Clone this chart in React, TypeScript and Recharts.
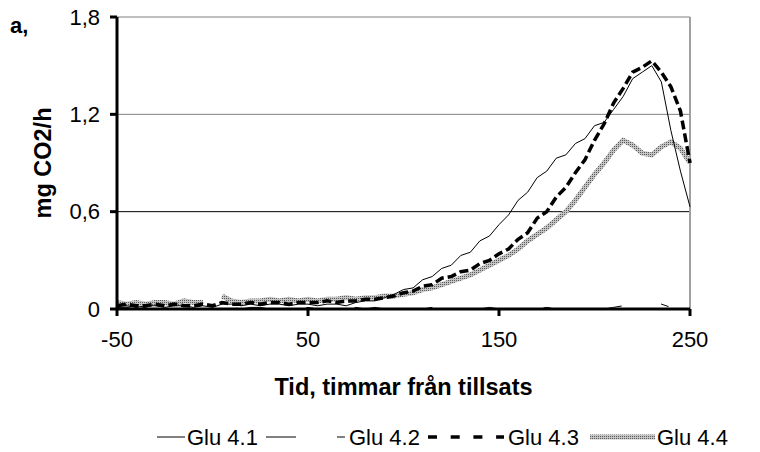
import React from "react";
import {
  LineChart,
  Line,
  XAxis,
  YAxis,
  ReferenceLine,
} from "recharts";

// hours relative to the addition (step 5 h)
const hours = [
  -50, -45, -40, -35, -30, -25, -20, -15, -10, -5,
  0, 5, 10, 15, 20, 25, 30, 35, 40, 45,
  50, 55, 60, 65, 70, 75, 80, 85, 90, 95,
  100, 105, 110, 115, 120, 125, 130, 135, 140, 145,
  150, 155, 160, 165, 170, 175, 180, 185, 190, 195,
  200, 205, 210, 215, 220, 225, 230, 235, 240, 245,
  250,
];

const glu41 = [
  0.02, 0.02, 0.01, 0.02, 0.02, 0.01, 0.02, 0.02, 0.01, 0.02,
  0.01, 0.03, 0.03, 0.02, 0.03, 0.02, 0.03, 0.03, 0.02, 0.03,
  0.03, 0.02, 0.03, 0.03, 0.02, 0.04, 0.05, 0.05, 0.07, 0.09,
  0.12, 0.13, 0.18, 0.2, 0.25, 0.27, 0.33, 0.35, 0.42, 0.45,
  0.52, 0.58, 0.67, 0.72, 0.81, 0.85, 0.93, 0.95, 1.02, 1.05,
  1.13, 1.15, 1.23, 1.31, 1.42, 1.46, 1.5, 1.4, 1.1, 0.85,
  0.63,
];

const glu42 = [
  0.01, 0.01, 0.0, 0.01, 0.01, 0.0, 0.01, 0.01, 0.0, 0.01,
  0.0, 0.01, 0.01, 0.0, 0.01, 0.01, 0.0, 0.01, 0.01, 0.0,
  0.01, 0.0, 0.01, 0.01, 0.0, 0.01, 0.0, 0.01, 0.0, 0.01,
  0.0, 0.01, 0.0, 0.01, 0.0, 0.0, 0.01, 0.0, 0.0, 0.01,
  0.0, 0.0, 0.01, 0.0, 0.0, 0.01, 0.0, 0.0, 0.0, 0.01,
  0.0, 0.0, 0.01, 0.02, 0.0, 0.02, 0.01, 0.03, 0.01, 0.04,
  0.01,
];

const glu43 = [
  0.02, 0.03, 0.02, 0.02, 0.03, 0.02, 0.03, 0.02, 0.02, 0.03,
  0.02, 0.04, 0.03, 0.03, 0.04, 0.03, 0.04, 0.04, 0.03, 0.04,
  0.04, 0.04, 0.05, 0.04, 0.05, 0.05, 0.06, 0.06, 0.07, 0.08,
  0.1, 0.11, 0.14, 0.15, 0.19, 0.2, 0.23, 0.24, 0.28, 0.3,
  0.34, 0.37, 0.43, 0.47, 0.56, 0.6, 0.69, 0.75, 0.84, 0.92,
  1.04, 1.14, 1.27, 1.36, 1.46, 1.49, 1.53, 1.46, 1.37, 1.22,
  0.9,
];

const glu44 = [
  0.04, 0.03, 0.04, 0.03, 0.04, 0.04, 0.03, 0.05, 0.04, 0.04,
  null, 0.08, 0.05, 0.04, 0.05, 0.05, 0.06, 0.05, 0.06, 0.05,
  0.06, 0.05, 0.06, 0.06, 0.07, 0.06, 0.07, 0.07, 0.08, 0.08,
  0.09, 0.1, 0.12, 0.13, 0.15, 0.17, 0.19, 0.21, 0.24, 0.27,
  0.3, 0.33, 0.37, 0.42, 0.46, 0.5, 0.55, 0.6, 0.67, 0.75,
  0.83, 0.9, 0.98, 1.04, 1.01, 0.96, 0.95, 1.0, 1.03, 0.99,
  0.9,
];

const xTicks = [-50, 50, 150, 250];
const yTicks = [0, 0.6, 1.2, 1.8];

const data = hours.map((h, i) => ({
  h,
  g41: glu41[i],
  g42: glu42[i],
  g43: glu43[i],
  g44: glu44[i],
}));

const FONT = "'Liberation Sans', Arial, sans-serif";

const fmtY = (v: number) => (v === 0 ? "0" : v.toFixed(1).replace(".", ","));

const App = () => {
  return (
    <div style={{ position: "absolute", left: 0, top: 0, width: 760, height: 452, background: "#fff" }}>
      <LineChart
        width={760}
        height={452}
        data={data}
        margin={{ top: 17, right: 70, left: 57, bottom: 103 }}
        style={{ fontFamily: FONT }}
      >
        <defs>
          <pattern id="dither" width="2" height="2" patternUnits="userSpaceOnUse">
            <rect width="2" height="2" fill="#c4c4c4" />
            <rect width="1" height="1" fill="#5a5a5a" />
          </pattern>
        </defs>
        <ReferenceLine y={1.8} stroke="#808080" strokeWidth={1} />
        <ReferenceLine y={1.2} stroke="#808080" strokeWidth={1} />
        <ReferenceLine y={0.6} stroke="#000" strokeWidth={1} />
        <ReferenceLine x={250} stroke="#a0a0a0" strokeWidth={2} />
        <XAxis
          dataKey="h"
          type="number"
          domain={[-50, 250]}
          ticks={xTicks}
          height={40}
          axisLine={{ stroke: "#000", strokeWidth: 3 }}
          tickLine={{ stroke: "#000", strokeWidth: 3 }}
          tickSize={7}
          tickMargin={15}
          tick={{ fill: "#000", fontSize: 22, fontFamily: FONT }}
          label={{
            content: (props: any) => {
              const vb = props.viewBox;
              return (
                <text
                  x={vb.x + vb.width / 2}
                  y={vb.y + 86}
                  textAnchor="middle"
                  fontSize={23.5}
                  fontWeight="bold"
                  fontFamily={FONT}
                  fill="#000"
                >
                  Tid, timmar från tillsats
                </text>
              );
            },
          }}
        />
        <YAxis
          type="number"
          domain={[0, 1.8]}
          ticks={yTicks}
          width={60}
          axisLine={{ stroke: "#000", strokeWidth: 3 }}
          tickLine={{ stroke: "#000", strokeWidth: 3 }}
          tickSize={7}
          tickMargin={10}
          tickFormatter={fmtY}
          tick={{ fill: "#000", fontSize: 22, fontFamily: FONT }}
          label={{
            content: (props: any) => {
              const vb = props.viewBox;
              const cx = vb.x - 14;
              const cy = vb.y + vb.height / 2;
              return (
                <text
                  x={cx}
                  y={cy}
                  transform={`rotate(-90 ${cx} ${cy})`}
                  textAnchor="middle"
                  dominantBaseline="central"
                  fontSize={23.5}
                  fontWeight="bold"
                  fontFamily={FONT}
                  fill="#000"
                >
                  mg CO2/h
                </text>
              );
            },
          }}
        />
        <Line
          dataKey="g44"
          name="Glu 4.4"
          stroke="url(#dither)"
          strokeWidth={5}
          dot={false}
          type="linear"
          isAnimationActive={false}
        />
        <Line
          dataKey="g42"
          name="Glu 4.2"
          stroke="#000"
          strokeWidth={1}
          strokeDasharray="30 41 8 41"
          dot={false}
          type="linear"
          isAnimationActive={false}
        />
        <Line
          dataKey="g41"
          name="Glu 4.1"
          stroke="#000"
          strokeWidth={1}
          dot={false}
          type="linear"
          isAnimationActive={false}
        />
        <Line
          dataKey="g43"
          name="Glu 4.3"
          stroke="#000"
          strokeWidth={3.5}
          strokeDasharray="9 4"
          dot={false}
          type="linear"
          isAnimationActive={false}
        />
      </LineChart>
      <svg
        width={760}
        height={452}
        style={{ position: "absolute", left: 0, top: 0, pointerEvents: "none" }}
        fontFamily={FONT}
      >
        <defs>
          <pattern id="dither2" width="2" height="2" patternUnits="userSpaceOnUse">
            <rect width="2" height="2" fill="#c4c4c4" />
            <rect width="1" height="1" fill="#5a5a5a" />
          </pattern>
        </defs>
        <text x={10} y={33} fontSize={22} fontWeight="bold" fill="#000">
          a,
        </text>
        <g fontSize={22} fill="#000">
          <line x1={157} x2={185} y1={437} y2={437} stroke="#000" strokeWidth={1} />
          <text x={187} y={445}>Glu 4.1</text>
          <line x1={266} x2={345} y1={437} y2={437} stroke="#000" strokeWidth={1} strokeDasharray="30 41 8" />
          <text x={349} y={445}>Glu 4.2</text>
          <line x1={428} x2={504} y1={437} y2={437} stroke="#000" strokeWidth={3.5} strokeDasharray="9 13.7" />
          <text x={508} y={445}>Glu 4.3</text>
          <line x1={590} x2={655} y1={437} y2={437} stroke="url(#dither2)" strokeWidth={5} />
          <text x={657} y={445}>Glu 4.4</text>
        </g>
      </svg>
    </div>
  );
};

export default App;
